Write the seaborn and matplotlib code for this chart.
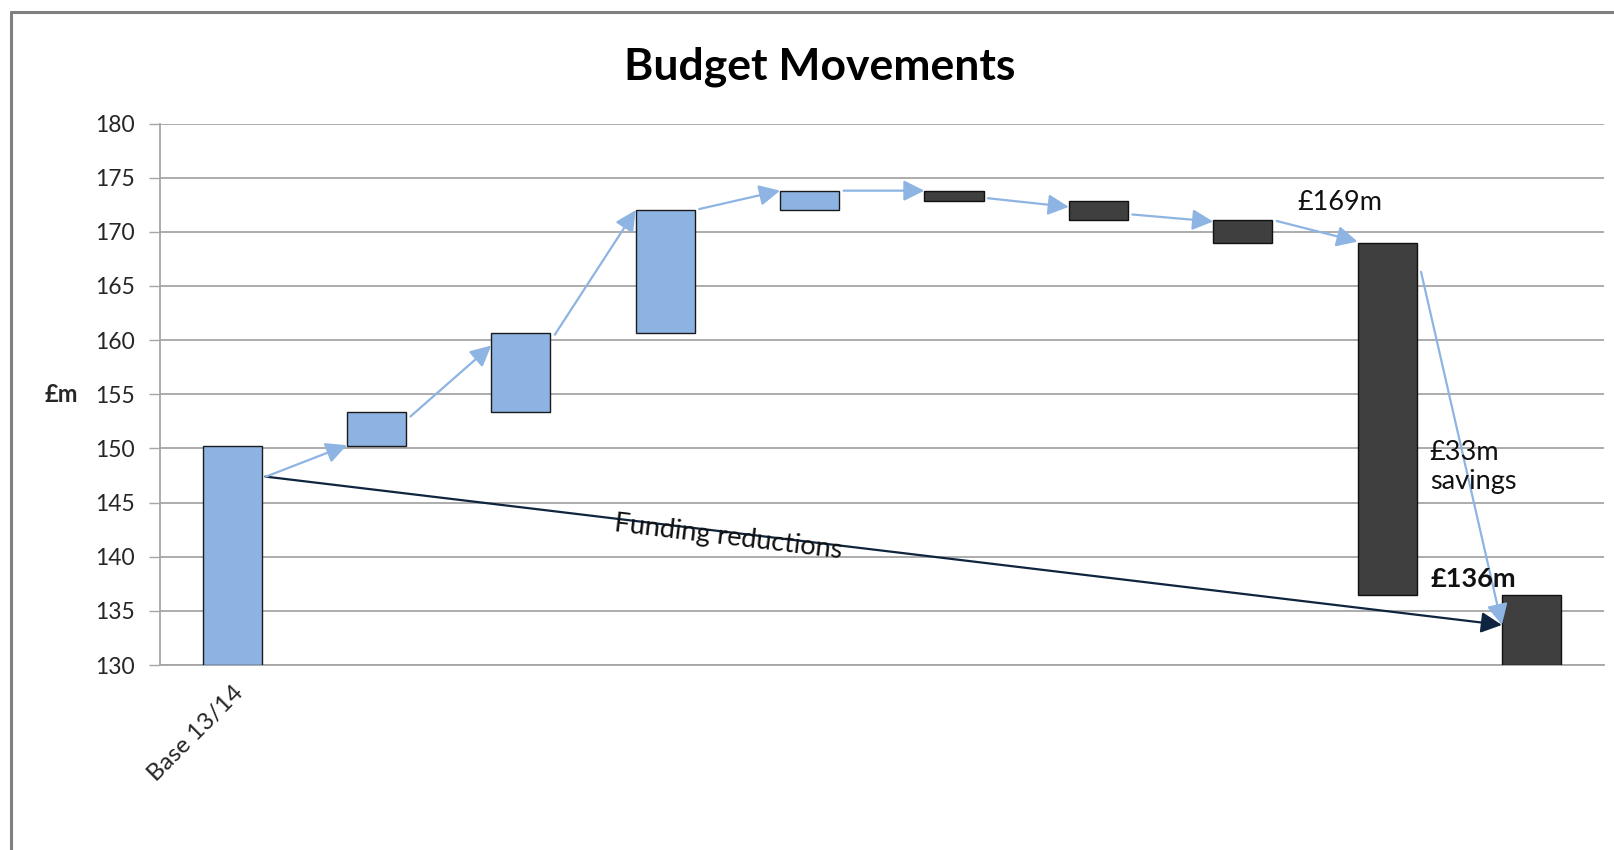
import numpy as np
import pandas as pd
import matplotlib
matplotlib.use("Agg")
import matplotlib.pyplot as plt
import seaborn as sns
from matplotlib.lines import Line2D

# ---- data ----
labels = ["Base 13/14", "", "", "", "", "", "", "", "", ""]
bar_start = [130.0, 150.2, 153.4, 160.7, 172.0, 173.8, 172.8, 171.1, 169.0, 130.0]
bar_end = [150.2, 153.4, 160.7, 172.0, 173.8, 172.8, 171.1, 169.0, 136.5, 136.5]
bar_group = ["blue", "blue", "blue", "blue", "blue", "dark", "dark", "dark", "dark", "dark"]
# connector arrows between consecutive bars (y values)
arrow_from_y = [147.4, 152.95, 160.5, 172.1, 173.8, 173.1, 171.6, 171.0, 166.3]
arrow_to_y = [150.3, 159.5, 172.0, 173.8, 173.8, 172.3, 170.95, 169.1, 133.7]
funding_from_y = 147.4
funding_to_y = 133.7
y_ticks = [130, 135, 140, 145, 150, 155, 160, 165, 170, 175, 180]

sns.set_theme(style="white")
plt.rcParams["font.family"] = ["Lato", "DejaVu Sans"]

fig = plt.figure(figsize=(16.14, 8.5), dpi=100)
ax = fig.add_axes([0.0991, 0.2176, 0.9936 - 0.0991, 0.8547 - 0.2176])

pos = np.arange(len(labels))
df = pd.DataFrame({
    "pos": pos,
    "height": np.array(bar_end) - np.array(bar_start),
})
W = 0.41
sns.barplot(data=df, x="pos", y="height", bottom=bar_start, width=W,
            errorbar=None, color="#8DB3E2", edgecolor="#1a1a1a",
            linewidth=1.0, ax=ax, zorder=3)
colors = {"blue": "#8DB3E2", "dark": "#3F3F3F"}
for p, g in zip(ax.patches, bar_group):
    p.set_facecolor(colors[g])
    p.set_edgecolor("#1a1a1a" if g == "blue" else "#111111")

ax.set_xlim(-0.5, len(labels) - 0.5)
ax.set_ylim(130, 180)
ax.set_yticks(y_ticks)
ax.set_yticklabels([str(t) for t in y_ticks], fontsize=16.5)
ax.yaxis.grid(True, color="#A6A6A6", linewidth=1.3, zorder=0)
ax.set_axisbelow(True)
ax.set_xticks(pos)
ax.set_xticklabels(labels, rotation=45, ha="right", rotation_mode="anchor", fontsize=17.5)
ax.set_xticks(np.arange(-0.5, len(labels)), minor=True)
ax.tick_params(axis="x", which="major", length=0, pad=12)
ax.tick_params(axis="x", which="minor", length=9, width=1.0, color="#A6A6A6", direction="out")
ax.tick_params(axis="y", which="major", length=8, width=1.0, color="#A6A6A6", direction="out", left=True, pad=10)
for s in ["top", "right"]:
    ax.spines[s].set_visible(False)
for s in ["left", "bottom"]:
    ax.spines[s].set_color("#A6A6A6")
    ax.spines[s].set_linewidth(1.3)
ax.set_xlabel("")
ax.set_ylabel("£m", fontsize=17, fontweight="bold", rotation=0, va="center", ha="center")
ax.yaxis.set_label_coords(-0.068, 0.5)

# connector arrows
light = "#8DB4E2"
for i in range(len(arrow_from_y)):
    x0 = i + W / 2 + 0.03
    x1 = i + 1 - W / 2
    ax.annotate("", xy=(x1, arrow_to_y[i]), xytext=(x0, arrow_from_y[i]),
                arrowprops=dict(arrowstyle="-|>,head_length=0.7,head_width=0.35",
                                color=light, lw=1.6, shrinkA=0, shrinkB=0,
                                mutation_scale=18), zorder=5)

# funding reductions arrow
fx0, fx1 = W / 2 + 0.025, len(labels) - 1 - W / 2
ax.annotate("", xy=(fx1, funding_to_y), xytext=(fx0, funding_from_y),
            arrowprops=dict(arrowstyle="-|>,head_length=0.7,head_width=0.35",
                            color="#0F243E", lw=1.6, shrinkA=0, shrinkB=0,
                            mutation_scale=18), zorder=4)
p0 = ax.transData.transform((fx0, funding_from_y))
p1 = ax.transData.transform((fx1, funding_to_y))
ang = np.degrees(np.arctan2(p1[1] - p0[1], p1[0] - p0[0]))
t = 0.374
tx = fx0 + t * (fx1 - fx0)
ty = funding_from_y + t * (funding_to_y - funding_from_y) - 0.45
ax.text(tx, ty, "Funding reductions", rotation=ang, rotation_mode="anchor",
        ha="center", va="center", fontsize=19.5, color="#111111", zorder=6)

# value annotations
ax.text(7.375, 172.68, "£169m", fontsize=19.5, ha="left", va="center", color="#111111", zorder=6)
ax.text(8.295, 148.3, "£33m\nsavings", fontsize=19.5, ha="left", va="center",
        color="#111111", linespacing=1.2, zorder=6)
ax.text(8.30, 137.9, "£136m", fontsize=19.5, fontweight="bold", ha="left", va="center",
        color="#111111", zorder=6)

fig.text(0.508, 0.922, "Budget Movements", fontsize=32, fontweight="bold",
         ha="center", va="center", color="#000000")

# outer frame (left and top edges visible)
fig.add_artist(Line2D([10.5 / 1614, 10.5 / 1614], [0, 1 - 11.5 / 850],
                      transform=fig.transFigure, color="#808080", lw=2.2))
fig.add_artist(Line2D([10.5 / 1614, 1], [1 - 11.5 / 850, 1 - 11.5 / 850],
                      transform=fig.transFigure, color="#808080", lw=2.2))

fig.savefig("out.png", dpi=100, facecolor="white")
